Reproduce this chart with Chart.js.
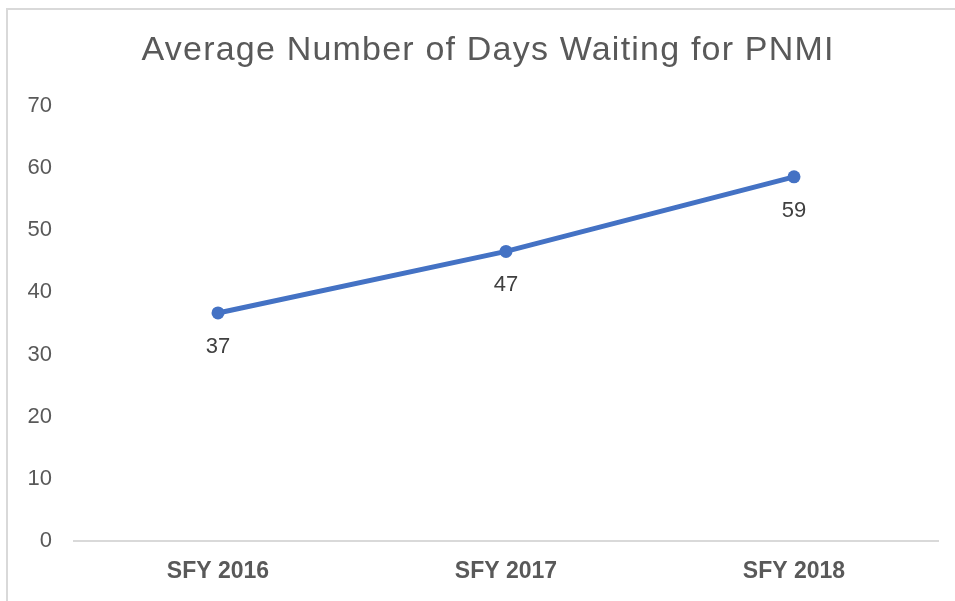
<!DOCTYPE html>
<html>
<head>
<meta charset="utf-8">
<script src="https://cdn.jsdelivr.net/npm/chart.js@4.4.1/dist/chart.umd.min.js"></script>
<style>
  html, body { margin: 0; padding: 0; background: #ffffff; overflow: hidden; }
  #frame { position: absolute; left: 6px; top: 8px; width: 980px; height: 620px; border: 2px solid #d9d9d9; box-sizing: border-box; z-index: 0; }
  #wrap { position: absolute; left: 0; top: 0; width: 955px; height: 601px; z-index: 1; }
</style>
</head>
<body>
<div id="frame"></div>
<div id="wrap"><canvas id="c" width="955" height="601"></canvas></div>
<script>
const chartTitle = "Average Number of Days Waiting for PNMI";
const categories = ["SFY 2016", "SFY 2017", "SFY 2018"];
const avgDays = [36.7, 46.6, 58.6];
const dataLabels = ["37", "47", "59"];
const yTicks = [0, 10, 20, 30, 40, 50, 60, 70];

const FONT = "'Liberation Sans', Arial, sans-serif";

const titlePlugin = {
  id: 'customTitle',
  afterDraw(chart) {
    const ctx = chart.ctx;
    ctx.save();
    ctx.font = "34px " + FONT;
    ctx.fillStyle = "#595959";
    ctx.textAlign = "center";
    ctx.textBaseline = "middle";
    const sp = 1.2;
    ctx.letterSpacing = sp + "px";
    ctx.fillText(chartTitle, 487.5 + sp / 2, 51);
    ctx.restore();
  }
};

const labelPlugin = {
  id: 'pointLabels',
  afterDatasetsDraw(chart) {
    const ctx = chart.ctx;
    const meta = chart.getDatasetMeta(0);
    ctx.save();
    ctx.font = "22px " + FONT;
    ctx.fillStyle = "#404040";
    ctx.textAlign = "center";
    ctx.textBaseline = "middle";
    meta.data.forEach((pt, i) => {
      ctx.fillText(dataLabels[i], pt.x, pt.y + 34);
    });
    ctx.restore();
  }
};

new Chart(document.getElementById('c'), {
  type: 'line',
  data: {
    labels: categories,
    datasets: [{
      data: avgDays,
      borderColor: '#4472C4',
      backgroundColor: '#4472C4',
      borderWidth: 5,
      pointRadius: 6.5,
      pointHoverRadius: 6.5,
      pointBackgroundColor: '#4472C4',
      pointBorderWidth: 0,
      tension: 0,
      fill: false
    }]
  },
  options: {
    responsive: false,
    animation: false,
    devicePixelRatio: 1,
    layout: { padding: { top: 106, right: 17, bottom: 0, left: 0 } },
    plugins: {
      legend: { display: false },
      tooltip: { enabled: false },
      title: { display: false }
    },
    scales: {
      x: {
        offset: true,
        grid: { display: false, drawTicks: false },
        border: { display: true, color: '#d9d9d9', width: 2 },
        ticks: {
          color: '#595959',
          font: { family: FONT, size: 23, weight: 'bold' },
          padding: 17,
          maxRotation: 0
        },
        afterFit(axis) { axis.height = 60; }
      },
      y: {
        min: 0,
        max: 70,
        afterBuildTicks(axis) { axis.ticks = yTicks.map(v => ({ value: v })); },
        grid: { display: false, drawTicks: false },
        border: { display: false },
        ticks: {
          color: '#595959',
          font: { family: FONT, size: 22 },
          padding: 22
        },
        afterFit(axis) { axis.width = 74; }
      }
    }
  },
  plugins: [titlePlugin, labelPlugin]
});
</script>
</body>
</html>
